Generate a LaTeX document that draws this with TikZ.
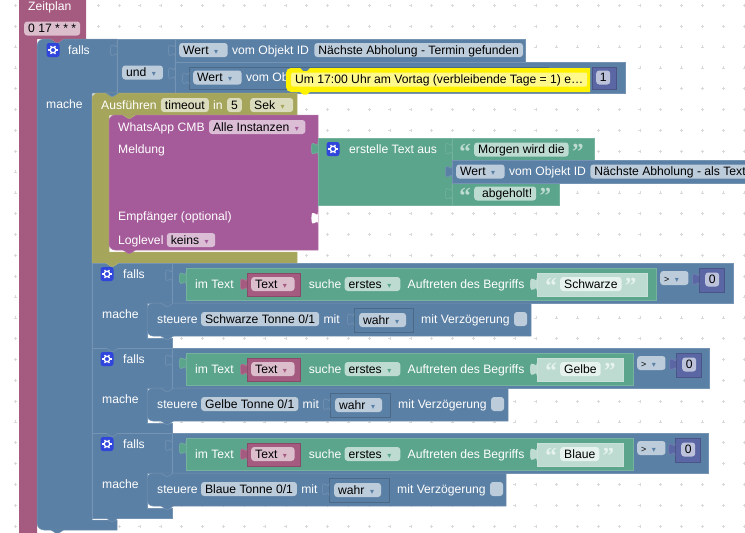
\documentclass[tikz,border=0pt]{standalone}
\usepackage{fontspec}
\setmainfont{Liberation Sans}
\newfontfamily\symfont{DejaVu Sans}
\newfontfamily\quotefont{Liberation Serif}
\usetikzlibrary{calc,positioning}

\definecolor{blockblue}{HTML}{5B80A5}
\definecolor{blockplum}{HTML}{A55B80}
\definecolor{blockpurple}{HTML}{A55B99}
\definecolor{blockgreen}{HTML}{5BA58C}
\definecolor{blockolive}{HTML}{A5A55B}
\definecolor{blocknum}{HTML}{5B67A5}
\definecolor{gearblue}{HTML}{2F45DC}
\definecolor{lightgreen}{HTML}{BDDBD1}
\definecolor{palegreen}{HTML}{E6F2EE}

\newcommand{\dd}[2][0pt]{\hspace{5.5pt}{\color{#2}\symfont\fontsize{8}{8}\selectfont ▾}\kern\dimexpr 2.5pt+#1\relax}
\newcommand{\notch}[3]{\path[block=#3, shift={(#1,#2)}] (0,0) -- (5,3.3) -- (7.5,3.3) -- (12.5,0);}
\newcommand{\tabin}[3]{\path[block=#3, shift={(#1,#2)}] (0,0) .. controls (0,8.3) and (-6.6,-6.6) .. (-6.6,6.2) .. controls (-6.6,19) and (0,4.2) .. (0,12.5);}
\newcommand{\gearicon}[3]{%
	\node [gearbox] (#1) at (#2,#3) {};
	\draw [white, line width=1.3pt] (#1.center) circle (2.8);
	\foreach \a in {0,60,...,300} \draw [white, line width=1.2pt] ($(#1.center)+(\a:3)$) -- ($(#1.center)+(\a:4.7)$);
}

\begin{document}
\begin{tikzpicture}[x=1pt,y=-1pt]
	\tikzstyle{every node} = [font=\fontsize{12.15}{14}\selectfont]
	\tikzstyle{block} = [fill=#1, draw=#1!84!white, line width=0.5pt]
	\tikzstyle{inblock} = [fill=#1, draw=#1!82!black, line width=0.5pt]
	\tikzstyle{lbl} = [text=white, inner sep=0pt, text height=10.3pt, text depth=1.7pt, anchor=west]
	\tikzstyle{field} = [fill=#1, rounded corners=3pt, inner xsep=4pt, inner ysep=1pt, text=black, text height=10.3pt, text depth=1.7pt, anchor=west]
	\tikzstyle{quotemark} = [text=#1, inner sep=0pt, font=\quotefont\bfseries\fontsize{23}{23}\selectfont, text height=10.3pt, text depth=1.7pt, yshift=-5.5pt]
	\tikzstyle{gearbox} = [fill=gearblue, rounded corners=2.5pt, minimum width=13pt, minimum height=14pt, inner sep=0pt]

	\clip (0,0) rectangle (745,533);

	% dotted workspace
	\foreach \i in {0,...,35} \foreach \j in {0,...,25} {
		\draw [black!15, line width=0.5pt] (15+\i*20.83-1.5,5.3+\j*20.83) -- (15+\i*20.83+1.5,5.3+\j*20.83);
		\draw [black!15, line width=0.5pt] (15+\i*20.83,5.3+\j*20.83-1.5) -- (15+\i*20.83,5.3+\j*20.83+1.5);
	}

	% Zeitplan
	\path [fill=blockplum] (19,0) -- (86,0) -- (86,39) -- (37,39) -- (37,533) -- (19,533) -- cycle;
	\node [lbl] (zeitplan) at (28,6) {Zeitplan};
	\node [field=blockplum!40!white] (cron) at (24,28.5) {0 17 * * *};

	% outer falls
	\path [block=blockblue] (37,60) [rounded corners=7pt] -- (37,39) [sharp corners] -- (117,39) -- (117,93) -- (92,93) -- (92,520) -- (117,520) -- (117,530) [rounded corners=7pt] -- (37,530) -- (37,500) [sharp corners] -- cycle;
	\notch{51}{39}{blockplum}
	\notch{51}{530}{blockblue}
	\gearicon{gearouter}{53}{50}
	\node [lbl] (falls) at (68,50) {falls};
	\node [lbl] (mache) at (46,104) {mache};

	\path [block=blockblue] (117,39) rectangle (175,93);
	\tabin{117}{44}{blockblue}
	\tabin{175}{44}{blockblue}
	\tabin{175}{67}{blockblue}
	\node [field=blockblue!40!white] (und) at (122,72.5) {und\dd[0.5pt]{blockblue}};

	\path [block=blockblue] (175,39) rectangle (525,62);
	\node [field=blockblue!40!white] (wert) at (179,50) {Wert\dd[3pt]{blockblue}};
	\node [lbl, right=4pt of wert] (vom) {vom Objekt ID};
	\node [field=blockblue!40!white, right=5pt of vom] (termin) {Nächste Abholung - Termin gefunden};

	\path [block=blockblue] (175,62) rectangle (625,93);
	\path [inblock=blockblue] (189,67) rectangle (548,89);
	\tabin{189}{72}{blockblue}
	\node [field=blockblue!40!white] (werttwo) at (193,77.5) {Wert\dd[3pt]{blockblue}};
	\node [lbl, right=4pt of werttwo] (vomtwo) {vom Ob};
	\path [inblock=blocknum] (592,67) rectangle (616,89);
	\node [field=blocknum!40!white, minimum width=14pt, inner xsep=3.5pt] (eins) at (596,77.5) {1};

	% Ausfuehren
	\path [block=blockolive] (92,110) [rounded corners=6pt] -- (92,93) [sharp corners] -- (297,93) -- (297,115) -- (109,115) -- (109,252) -- (297,252) -- (297,263) -- (92,263) -- cycle;
	\notch{106}{93}{blockblue}
	\node [lbl] (ausf) at (101,105) {Ausführen};
	\node [field=blockolive!40!white, right=4pt of ausf] (timeout) {timeout};
	\node [lbl, right=4pt of timeout] (in) {in};
	\node [field=blockolive!40!white, right=4pt of in] (fuenf) {5};
	\node [field=blockolive!40!white, right=8pt of fuenf] (sek) {Sek\dd[2pt]{blockolive}};

	% WhatsApp
	\path [block=blockpurple] (109,130) [rounded corners=6pt] -- (109,115) [sharp corners] -- (318,115) -- (318,250) [rounded corners=6pt] -- (109,250) -- (109,235) [sharp corners] -- cycle;
	\notch{123}{115}{blockolive}
	\notch{123}{250}{blockpurple}
	\path [fill=white] (318,212) .. controls (318,220.3) and (311.4,205.4) .. (311.4,218.2) .. controls (311.4,231) and (318,216.2) .. (318,224.5) -- cycle;
	\node [lbl] (whatsapp) at (118,127) {WhatsApp CMB};
	\node [field=blockpurple!40!white, right=4pt of whatsapp] (inst) {Alle Instanzen\dd{blockpurple}};
	\node [lbl] (meldung) at (118,149) {Meldung};
	\node [lbl] (empf) at (118,216.5) {Empfänger (optional)};
	\node [lbl] (loglevel) at (118,240) {Loglevel};
	\node [field=blockpurple!40!white, right=3pt of loglevel] (keins) {keins\dd{blockpurple}};

	% erstelle Text aus
	\path [block=blockgreen] (318,138) rectangle (452,205);
	\tabin{318}{142.5}{blockgreen}
	\gearicon{gearcreate}{333}{149}
	\node [lbl] (erstelle) at (349,149) {erstelle Text aus};

	\path [block=blockgreen] (452,138) rectangle (594,160);
	\tabin{452}{142.5}{blockgreen}
	\node [field=blockgreen!40!white] (morgen) at (474,149.5) {Morgen wird die};
	\node [quotemark=blockgreen!40!white, left=3pt of morgen] (qa) {“};
	\node [quotemark=blockgreen!40!white, right=3pt of morgen] (qb) {”};

	\path [block=blockgreen] (452,183) rectangle (559,205);
	\tabin{452}{187.5}{blockgreen}
	\node [field=blockgreen!40!white] (abgeholt) at (474,193.5) {\hspace{4pt}abgeholt!};
	\node [quotemark=blockgreen!40!white, left=3pt of abgeholt] (qc) {“};
	\node [quotemark=blockgreen!40!white, right=3pt of abgeholt] (qd) {”};

	\path [block=blockblue] (452,160) rectangle (770,183);
	\tabin{452}{165.5}{blockblue}
	\node [field=blockblue!40!white] (wertdrei) at (456,171.5) {Wert\dd[3pt]{blockblue}};
	\node [lbl, right=4pt of wertdrei] (vomdrei) {vom Objekt ID};
	\node [field=blockblue!40!white, right=4pt of vomdrei] (alstext) {Nächste Abholung - als Text};

	% die drei falls
	\foreach \n/\ry/\word/\xword/\xgreen/\xop/\xnum/\xend/\xwl/\xwr/\xstop in {
		1/263/Schwarze/647/656/660/699/733/354/413/531,
		2/348/Gelbe/623/633/637/676/709/330/390/508,
		3/433/Blaue/623/633/637/675/708/329/389/506} {
	\begin{scope}[shift={(0,\ry)}]
		\path [block=blockblue] (92,0) -- (172,0) -- (172,40) -- (147,40) -- (147,75) -- (172,75) -- (172,85) -- (92,85) -- cycle;
		\notch{106}{0}{blockblue}
		\gearicon{gear\n}{107}{11}
		\node [lbl] (falls\n) at (123,11) {falls};
		\node [lbl] (mache\n) at (102,51) {mache};

		\path [block=blockblue] (172,0) rectangle (\xend,40);
		\tabin{172}{6}{blockblue}

		\path [block=blockgreen] (186,5) rectangle (\xgreen,37);
		\tabin{186}{9}{blockgreen}
		\node [lbl] (imtext\n) at (195,21) {im Text};

		\path [inblock=blockplum] (247,10) rectangle (300,33);
		\tabin{247}{15}{blockplum}
		\node [field=blockplum!40!white] (text\n) at (251,21) {Text\dd[1pt]{blockplum}};
		\node [lbl, right=14pt of text\n] (suche\n) {suche};
		\node [field=blockgreen!40!white, right=3pt of suche\n] (erstes\n) {erstes\dd[2.5pt]{blockgreen}};
		\node [lbl, right=7pt of erstes\n] (auftreten\n) {Auftreten des Begriffs};

		\path [block=lightgreen] (537,10) rectangle (\xword,33);
		\tabin{537}{15}{lightgreen}
		\node [field=palegreen] (word\n) at (560,21) {\word};
		\node [quotemark=palegreen, left=3pt of word\n] (qopen\n) {“};
		\node [quotemark=palegreen, right=3pt of word\n] (qclose\n) {”};

		\node [field=blockblue!40!white, font=\fontsize{9}{10}\selectfont] (op\n) at (\xop,15) {>\dd[3pt]{blockblue}};
		\path [inblock=blocknum] (\xnum,5) rectangle (\xnum+25,29);
		\tabin{\xnum}{10}{blocknum}
		\node [field=blocknum!40!white, minimum width=14pt, inner xsep=3.5pt] (null\n) at (\xnum+6,16.5) {0};

		\path [block=blockblue] (147,55) [rounded corners=6pt] -- (147,40) [sharp corners] -- (\xstop,40) -- (\xstop,73) [rounded corners=6pt] -- (147,73) -- (147,60) [sharp corners] -- cycle;
		\notch{161}{40}{blockblue}
		\notch{161}{73}{blockblue}
		\node [lbl] (steuere\n) at (157,56) {steuere};
		\node [field=blockblue!40!white, right=3pt of steuere\n] (tonne\n) {\word{} Tonne 0/1};
		\node [lbl, right=4pt of tonne\n] (mit\n) {mit};
		\path [inblock=blockblue] (\xwl,45) rectangle (\xwr,69);
		\tabin{\xwl}{50}{blockblue}
		\node [field=blockblue!40!white] (wahr\n) at (\xwl+5,57) {wahr\dd[0.5pt]{blockblue}};
		\node [lbl] (verz\n) at (\xwr+8,56) {mit Verzögerung};
		\node [field=blockblue!40!white, minimum width=13pt, inner xsep=0pt, right=4pt of verz\n] (check\n) {};
	\end{scope}
	}
	\notch{106}{263}{blockolive}
	\notch{106}{518}{blockblue}

	% Kommentar
	\path [fill=yellow] (590,68) -- (310,68) -- (307,71) -- (303,71) -- (300,68) [rounded corners=5pt] -- (286,68) -- (286,92) [sharp corners] -- (300,92) -- (303,94.5) -- (307,94.5) -- (310,92) -- (590,92) -- cycle;
	\node [field=yellow!45!white, rounded corners=2pt] (bubble) at (291,79.5) {Um 17:00 Uhr am Vortag (verbleibende Tage = 1) e…};
\end{tikzpicture}
\end{document}
